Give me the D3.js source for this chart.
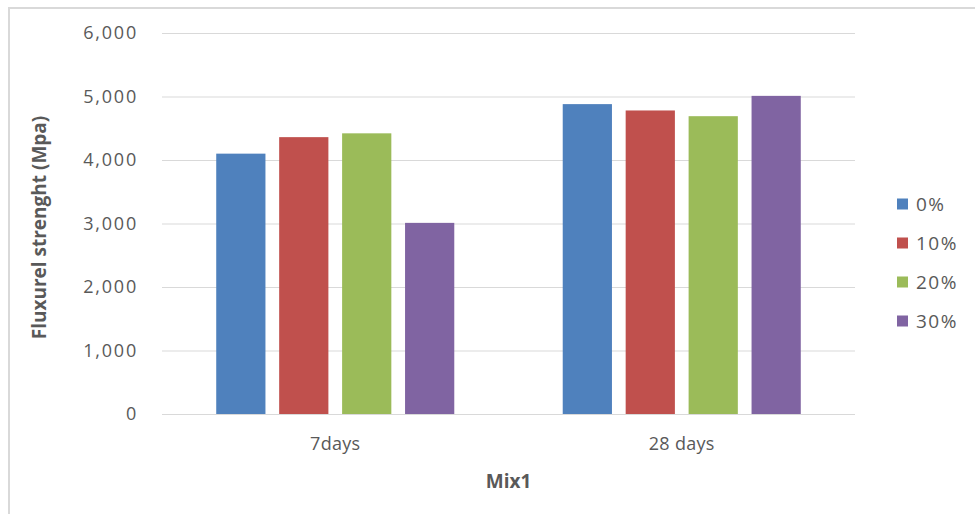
<!DOCTYPE html>
<html>
<head>
<meta charset="utf-8">
<script src="https://cdn.jsdelivr.net/npm/d3@7"></script>
<style>
  html, body { margin: 0; padding: 0; background: #fff; }
  svg { display: block; font-family: "Open Sans", "Noto Sans", sans-serif; }
</style>
</head>
<body>
<svg id="chart" width="975" height="514"></svg>
<script>
// Flexural strength of Mix1 by curing age and replacement level
const categories = ["7days", "28 days"];
const seriesNames = ["0%", "10%", "20%", "30%"];
const values0 = [4100, 4880];
const values10 = [4360, 4780];
const values20 = [4420, 4690];
const values30 = [3010, 5010];
const yTicks = [0, 1000, 2000, 3000, 4000, 5000, 6000];
const colors = ["#4f81bd", "#c0504d", "#9bbb59", "#8064a2"];

const seriesValues = [values0, values10, values20, values30];
const rows = categories.map((c, i) => ({
  category: c,
  values: seriesNames.map((s, j) => ({ key: s, value: seriesValues[j][i], color: colors[j] }))
}));

const svg = d3.select("#chart");
const margin = { left: 162, right: 120, top: 33, bottom: 100 };
const width = 975, height = 514;

// chart frame
svg.append("path")
  .attr("d", `M9,514 V8 H975`)
  .attr("fill", "none")
  .attr("stroke", "#d9d9d9")
  .attr("stroke-width", 2);

const x0 = d3.scaleBand()
  .domain(categories)
  .range([margin.left, width - margin.right])
  .paddingInner(0.313)
  .paddingOuter(0.1565);

const x1 = d3.scaleBand()
  .domain(seriesNames)
  .range([0, x0.bandwidth()])
  .paddingInner(0.218);

const y = d3.scaleLinear()
  .domain([0, 6000])
  .range([height - margin.bottom, margin.top]);

// gridlines
svg.append("g")
  .selectAll("line")
  .data(yTicks)
  .join("line")
  .attr("x1", margin.left)
  .attr("x2", width - margin.right)
  .attr("y1", d => y(d) + 0.5)
  .attr("y2", d => y(d) + 0.5)
  .attr("stroke", "#d9d9d9")
  .attr("stroke-width", 1.2);

// y axis tick labels
const yAxis = d3.axisLeft(y)
  .tickValues(yTicks)
  .tickFormat(d3.format(","))
  .tickSize(0)
  .tickPadding(0);

const gy = svg.append("g")
  .attr("transform", `translate(${margin.left - 24},0)`)
  .call(yAxis);
gy.select(".domain").remove();
gy.selectAll("text")
  .attr("fill", "#595959")
  .attr("font-size", 18)
  .attr("letter-spacing", 1.8)
  .attr("font-family", "Open Sans, sans-serif");

// bars
const groups = svg.append("g")
  .selectAll("g")
  .data(rows)
  .join("g")
  .attr("transform", d => `translate(${x0(d.category)},0)`);

groups.selectAll("rect")
  .data(d => d.values)
  .join("rect")
  .attr("x", d => x1(d.key))
  .attr("width", x1.bandwidth())
  .attr("y", d => y(d.value))
  .attr("height", d => y(0) - y(d.value))
  .attr("fill", d => d.color);

// baseline
svg.append("line")
  .attr("x1", margin.left)
  .attr("x2", width - margin.right)
  .attr("y1", y(0) + 0.5)
  .attr("y2", y(0) + 0.5)
  .attr("stroke", "#d9d9d9")
  .attr("stroke-width", 1.2);

// x axis category labels
const xAxis = d3.axisBottom(x0).tickSize(0).tickPadding(0);
const gx = svg.append("g")
  .attr("transform", `translate(0,${y(0) + 23})`)
  .call(xAxis);
gx.select(".domain").remove();
gx.selectAll("text")
  .attr("fill", "#595959")
  .attr("font-size", 18)
  .attr("letter-spacing", 0.3)
  .attr("font-family", "Open Sans, sans-serif");

// axis titles
svg.append("text")
  .attr("x", (margin.left + width - margin.right) / 2)
  .attr("y", 488)
  .attr("text-anchor", "middle")
  .attr("fill", "#595959")
  .attr("font-size", 19)
  .attr("font-weight", "bold")
  .text("Mix1");

svg.append("text")
  .attr("transform", `translate(46,${(y(0) + y(6000)) / 2 + 4}) rotate(-90)`)
  .attr("text-anchor", "middle")
  .attr("fill", "#595959")
  .attr("font-size", 19)
  .attr("font-weight", "bold")
  .text("Fluxurel strenght (Mpa)");

// legend
const legend = svg.append("g")
  .selectAll("g")
  .data(seriesNames)
  .join("g")
  .attr("transform", (d, i) => `translate(897,${204 + i * 39})`);

legend.append("rect")
  .attr("x", 0)
  .attr("y", -5.5)
  .attr("width", 11)
  .attr("height", 11)
  .attr("fill", (d, i) => colors[i]);

legend.append("text")
  .attr("x", 19)
  .attr("y", 0)
  .attr("dy", "0.36em")
  .attr("fill", "#595959")
  .attr("font-size", 19)
  .attr("letter-spacing", 1.5)
  .text(d => d);
</script>
</body>
</html>
